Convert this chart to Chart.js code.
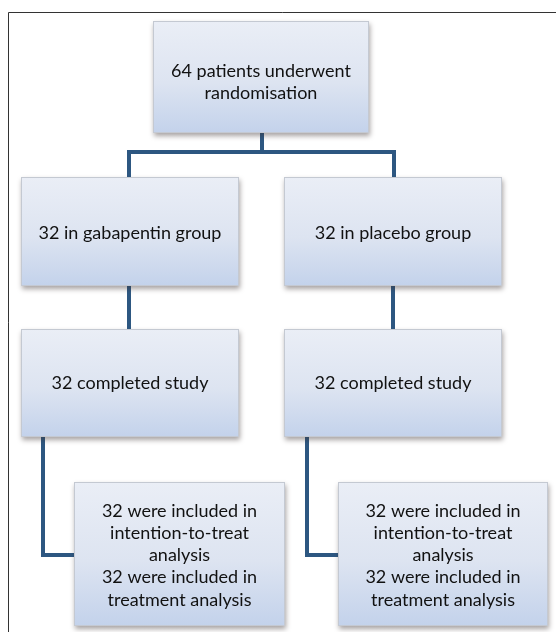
<!DOCTYPE html>
<html>
<head>
<meta charset="utf-8">
<script src="https://cdn.jsdelivr.net/npm/chart.js@4/dist/chart.umd.min.js"></script>
<style>
html,body{margin:0;padding:0;background:#fff;}
#wrap{width:556px;height:632px;position:relative;}
</style>
</head>
<body>
<div id="wrap"><canvas id="c"></canvas></div>
<script>
// ---- content ----
const nodeLabels = [
  ["64 patients underwent", "randomisation"],
  ["32 in gabapentin group"],
  ["32 in placebo group"],
  ["32 completed study"],
  ["32 completed study"],
  ["32 were included in", "intention-to-treat", "analysis", "32 were included in", "treatment analysis"],
  ["32 were included in", "intention-to-treat", "analysis", "32 were included in", "treatment analysis"]
];

// ---- layout (chart units, y grows downward) ----
const boxLeft   = [153, 21, 284, 21, 284, 74, 338];
const boxRight  = [369, 239, 502, 239, 502, 285, 548];
const boxTop    = [21, 177, 177, 329, 329, 482, 482];
const boxBottom = [133, 286, 286, 437, 437, 626, 626];
const textY = [
  [71, 93],
  [233],
  [233],
  [383],
  [383],
  [511, 533, 555, 577, 600],
  [511, 533, 555, 577, 600]
];

// connector paths
const connTopStem   = [{x:262,y:133},{x:262,y:152}];
const connTopBranch = [{x:129,y:177},{x:129,y:152},{x:394,y:152},{x:394,y:177}];
const connLeftMid   = [{x:129,y:286},{x:129,y:329}];
const connRightMid  = [{x:393,y:286},{x:393,y:329}];
const connLeftLow   = [{x:43,y:437},{x:43,y:555},{x:74,y:555}];
const connRightLow  = [{x:307,y:437},{x:307,y:555},{x:338,y:555}];
const framePath     = [{x:8.5,y:640},{x:8.5,y:12.5},{x:560,y:12.5}];

const lineColor = '#2d5781';

function conn(data){
  return {data, showLine:true, borderColor:lineColor, borderWidth:4, pointRadius:0,
          borderCapStyle:'butt', borderJoinStyle:'miter', fill:false, tension:0};
}

const boxPlugin = {
  id:'boxes',
  beforeDraw(chart){
    const ctx = chart.ctx;
    ctx.save(); ctx.fillStyle='#fff'; ctx.fillRect(0,0,chart.width,chart.height); ctx.restore();
  },
  afterDatasetsDraw(chart){
    const ctx = chart.ctx, xs = chart.scales.x, ys = chart.scales.y;
    for (let i=0;i<nodeLabels.length;i++){
      const x0 = xs.getPixelForValue(boxLeft[i]), x1 = xs.getPixelForValue(boxRight[i]);
      const y0 = ys.getPixelForValue(boxTop[i]),  y1 = ys.getPixelForValue(boxBottom[i]);
      ctx.save();
      ctx.shadowColor='rgba(60,50,50,0.45)';
      ctx.shadowBlur=5; ctx.shadowOffsetX=1; ctx.shadowOffsetY=3;
      const g = ctx.createLinearGradient(0,y0,0,y1);
      g.addColorStop(0,'#eaeef6');
      g.addColorStop(0.55,'#dde4f1');
      g.addColorStop(1,'#c3d2eb');
      ctx.fillStyle=g;
      ctx.fillRect(x0,y0,x1-x0,y1-y0);
      ctx.restore();
      ctx.save();
      ctx.strokeStyle='#c4c9d2'; ctx.lineWidth=1;
      ctx.strokeRect(Math.round(x0)+0.5,Math.round(y0)+0.5,Math.round(x1-x0)-1,Math.round(y1-y0)-1);
      ctx.fillStyle='#111';
      ctx.font='18px Lato, "Open Sans", sans-serif';
      ctx.textAlign='center'; ctx.textBaseline='middle';
      const cx=(x0+x1)/2;
      nodeLabels[i].forEach((t,j)=>{ ctx.fillText(t,cx,ys.getPixelForValue(textY[i][j])); });
      ctx.restore();
    }
  }
};

new Chart(document.getElementById('c'), {
  type:'scatter',
  data:{datasets:[
    {data:framePath, showLine:true, borderColor:'#333', borderWidth:1, pointRadius:0, fill:false},
    conn(connTopStem), conn(connTopBranch), conn(connLeftMid), conn(connRightMid),
    conn(connLeftLow), conn(connRightLow)
  ]},
  options:{
    responsive:true, maintainAspectRatio:false, animation:false,
    layout:{padding:0},
    plugins:{legend:{display:false}, tooltip:{enabled:false}},
    scales:{
      x:{type:'linear', min:0, max:556, display:false},
      y:{type:'linear', min:0, max:632, reverse:true, display:false}
    },
    clip:false
  },
  plugins:[boxPlugin]
});
</script>
</body>
</html>
